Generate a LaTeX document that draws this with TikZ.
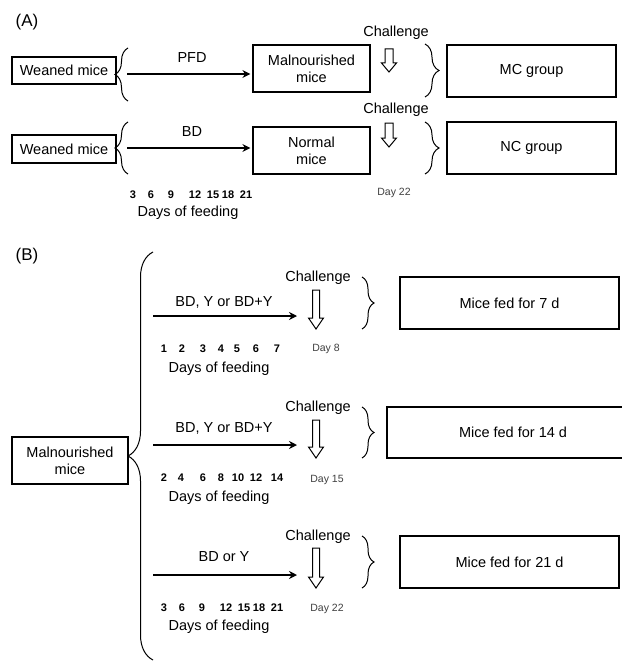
\documentclass[tikz,border=0pt]{standalone}
\usepackage{fontspec}
\setmainfont{Liberation Sans}
\usetikzlibrary{arrows.meta,decorations.pathreplacing}
\newcommand\hollowarr[6]{% x, top, tip, headlen, shaft half width, head half width
  \draw[line width=1pt,fill=white]
    (#1-#5,#2) -- (#1+#5,#2) -- (#1+#5,#3-#4) -- (#1+#6,#3-#4) -- (#1,#3)
    -- (#1-#6,#3-#4) -- (#1-#5,#3-#4) -- cycle;}
\begin{document}
\begin{tikzpicture}[x=1pt,y=-1pt,
  box/.style={draw,line width=1.2pt,inner sep=0pt,align=center,font=\fontsize{14.5}{17}\selectfont},
  lbl/.style={inner sep=0pt,font=\fontsize{14.5}{17}\selectfont},
  num/.style={inner sep=0pt,font=\fontsize{11}{13}\selectfont\bfseries},
  dayl/.style={inner sep=0pt,text=black!75,font=\fontsize{10.5}{12}\selectfont},
  panel/.style={inner sep=0pt,font=\fontsize{17}{20}\selectfont},
  brc/.style={line width=1pt,decorate,decoration={brace,amplitude=#1}},
  thickarr/.style={line width=2pt,-{Stealth[length=8pt,width=8pt]}},
  thinarr/.style={line width=1.2pt,-{Stealth[length=8pt,width=8pt]}}]
\useasboundingbox (0,0) rectangle (621,661);
\fill[white] (0,0) rectangle (621,661);

% ---------------- Panel A ----------------
\node[panel] (pA) at (27,22) {(A)};
\node[box,minimum width=104,minimum height=27] (wm1) at (64,70.5) {Weaned mice};
\node[box,minimum width=104,minimum height=28] (wm2) at (64,149) {Weaned mice};
\node[box,minimum width=117,minimum height=47] (mal) at (311.5,68.5) {Malnourished\\mice};
\node[box,minimum width=117,minimum height=47] (nor) at (311.5,150.5) {Normal\\mice};
\node[box,minimum width=169,minimum height=52] (mc) at (531.5,71) {MC group};
\node[box,minimum width=169,minimum height=52] (nc) at (531.5,148) {NC group};

\draw[brc=13] (128,101) -- (128,48);
\draw[brc=13] (128,174) -- (128,122);
\draw[brc=14] (425,44) -- (425,97);
\draw[brc=14] (425,122) -- (425,174);

\coordinate (a1s) at (127,74);
\coordinate (a2s) at (127,148);
\draw[thickarr] (a1s) -- ([xshift=-2pt]a1s -| mal.west);
\draw[thinarr] (a2s) -- ([xshift=-2pt]a2s -| nor.west);
\node[lbl] (pfd) at (192,58) {PFD};
\node[lbl] (bd) at (192,132) {BD};

\node[lbl] (ch1) at (396,33) {Challenge};
\node[lbl] (ch2) at (396,110) {Challenge};
\hollowarr{389}{49}{72}{9}{4}{7.5}
\hollowarr{389}{123}{147}{9}{4}{7.5}
\node[dayl] (dA) at (394,193) {Day 22};

\foreach \n/\x in {3/133,6/151,9/171,12/195,15/213,18/228,21/246}
  \node[num] at (\x,195) {\n};
\node[lbl] (dfA) at (188,213) {Days of feeding};

% ---------------- Panel B ----------------
\node[panel] (pB) at (27,256) {(B)};
\node[box,minimum width=116,minimum height=47] (malB) at (70,460.5) {Malnourished\\mice};
\draw[brc=25] (153,660) -- (153,252);

\node[box,minimum width=219,minimum height=52] (b7) at (509.5,303) {Mice fed for 7 d};
\node[box,minimum width=252,minimum height=51] (b14) at (513,432.5) {Mice fed for 14 d};
\node[box,minimum width=219,minimum height=52] (b21) at (509.5,562) {Mice fed for 21 d};

\draw[brc=12] (362,277) -- (362,329);
\draw[brc=12] (362,407) -- (362,458);
\draw[brc=12] (362,536) -- (362,588);

\coordinate (r1s) at (153,316); \coordinate (r1e) at (297,316);
\coordinate (r2s) at (153,445); \coordinate (r2e) at (297,445);
\coordinate (r3s) at (153,575); \coordinate (r3e) at (297,575);
\draw[thickarr] (r1s) -- (r1e);
\draw[thickarr] (r2s) -- (r2e);
\draw[thickarr] (r3s) -- (r3e);
\node[lbl] (t1) at (224,302) {BD, Y or BD+Y};
\node[lbl] (t2) at (224,428) {BD, Y or BD+Y};
\node[lbl] (t3) at (224,557) {BD or Y};

\node[lbl] (cb1) at (318,278) {Challenge};
\node[lbl] (cb2) at (318,408) {Challenge};
\node[lbl] (cb3) at (318,537) {Challenge};
\hollowarr{316}{290}{329}{11}{3.5}{7.5}
\hollowarr{316}{420}{458}{11}{3.5}{7.5}
\hollowarr{316}{548}{588}{11}{3.5}{7.5}

\node[dayl] (d8) at (326,349) {Day 8};
\node[dayl] (d15) at (327,480) {Day 15};
\node[dayl] (d22) at (327,609) {Day 22};

\foreach \n/\x in {1/164,2/182,3/203,4/221,5/237,6/256,7/277}
  \node[num] at (\x,349) {\n};
\foreach \n/\x in {2/164,4/181,6/203,8/221,10/238,12/256,14/277}
  \node[num] at (\x,478) {\n};
\foreach \n/\x in {3/164,6/182,9/202,12/226,15/244,18/259,21/277}
  \node[num] at (\x,608) {\n};
\node[lbl] (df1) at (219,369) {Days of feeding};
\node[lbl] (df2) at (219,498) {Days of feeding};
\node[lbl] (df3) at (219,627) {Days of feeding};
\end{tikzpicture}
\end{document}
